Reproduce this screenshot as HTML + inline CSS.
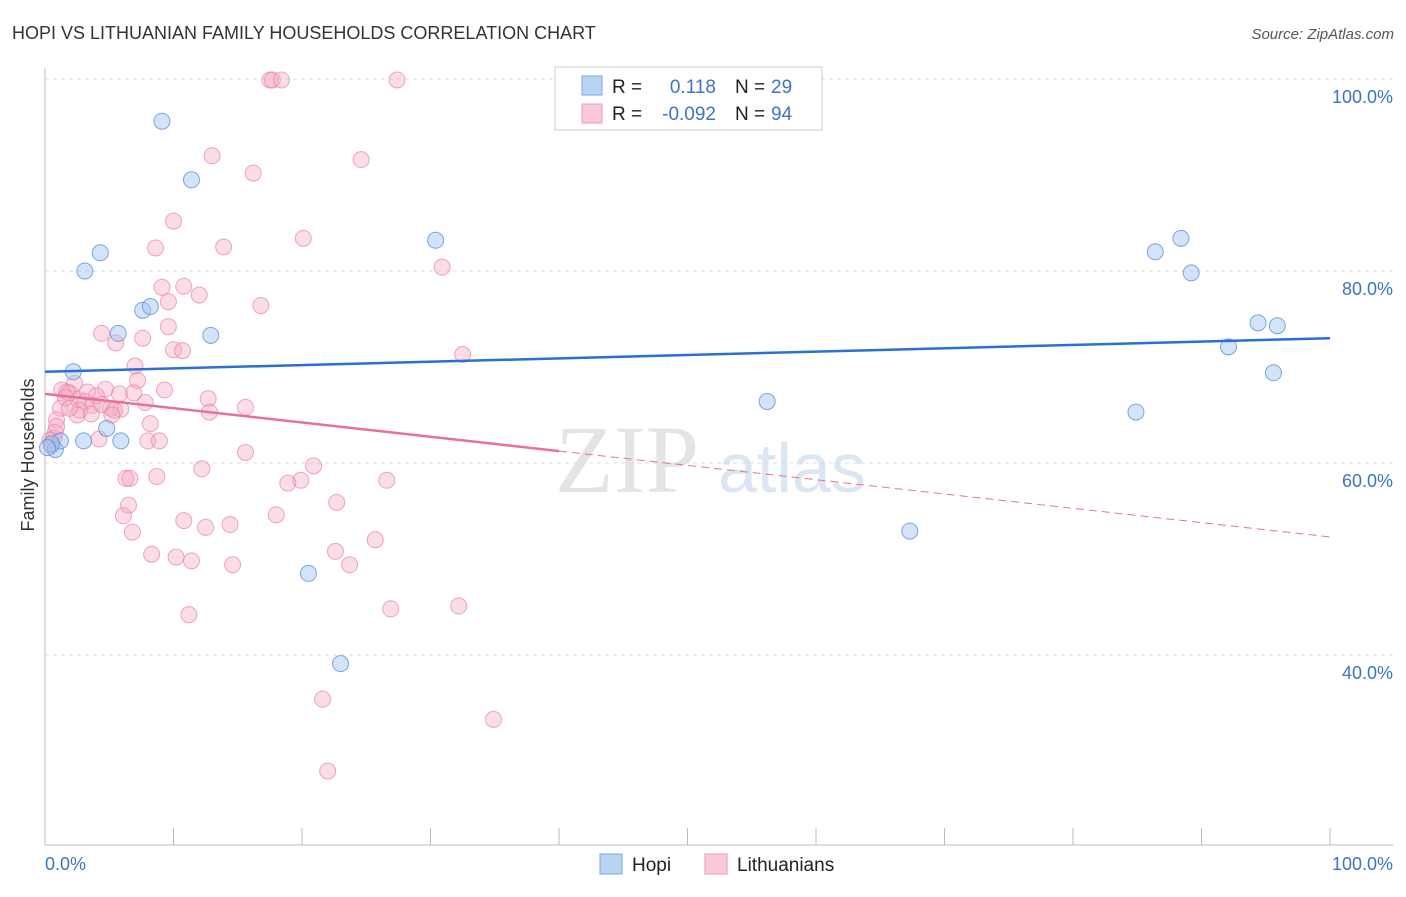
<!DOCTYPE html>
<html><head><meta charset="utf-8"><style>
body{margin:0;background:#fff;width:1406px;height:892px;overflow:hidden;font-family:"Liberation Sans",sans-serif}
</style></head><body>
<svg id="c" width="1406" height="892" xmlns="http://www.w3.org/2000/svg">
<text x="12" y="39" font-size="18" fill="#333">HOPI VS LITHUANIAN FAMILY HOUSEHOLDS CORRELATION CHART</text>
<text x="1394" y="39" font-size="15" fill="#555" text-anchor="end" font-style="italic">Source: ZipAtlas.com</text>
<text x="34" y="455" font-size="18" fill="#333" text-anchor="middle" transform="rotate(-90 34 455)">Family Households</text>
<text x="555" y="492" font-size="96" fill="#e4e4e4" font-family="Liberation Serif">ZIP</text>
<text x="718" y="492" font-size="70" fill="#dbe6f4">atlas</text>
<g id="grid"></g><g id="pts"></g><g id="lines"></g>
<g>
<rect x="555" y="67" width="267" height="63" fill="#fff" stroke="#ccc"/>
<rect x="582" y="76" width="20" height="19" fill="#b9d3f5" stroke="#7aa8e6"/>
<rect x="582" y="104" width="20" height="19" fill="#fbc8d7" stroke="#ec9ab3"/>
<text x="612" y="93" font-size="19" fill="#222">R =</text><text x="716" y="93" font-size="19" fill="#3b73c9" text-anchor="end">0.118</text>
<text x="735" y="93" font-size="19" fill="#222">N =</text><text x="771" y="93" font-size="19" fill="#3b73c9">29</text>
<text x="612" y="120" font-size="19" fill="#222">R =</text><text x="716" y="120" font-size="19" fill="#3b73c9" text-anchor="end">-0.092</text>
<text x="735" y="120" font-size="19" fill="#222">N =</text><text x="771" y="120" font-size="19" fill="#3b73c9">94</text>
</g>
<g>
<rect x="600" y="854" width="22" height="20" fill="#b9d3f5" stroke="#7aa8e6"/><text x="632" y="871" font-size="19" fill="#222">Hopi</text>
<rect x="705" y="854" width="22" height="20" fill="#fbc8d7" stroke="#ec9ab3"/><text x="737" y="871" font-size="19" fill="#222">Lithuanians</text>
</g>
<text x="45" y="870" font-size="18" fill="#3b73c9">0.0%</text>
<text x="1393" y="870" font-size="18" fill="#3b73c9" text-anchor="end">100.0%</text>
</svg>
<script>
const yTicks=[100,80,60,40];
const yTickLabels=["100.0%","80.0%","60.0%","40.0%"];
const hopiX=[9.1,11.4,4.3,3.1,30.4,7.6,8.2,5.7,12.9,2.2,0.8,1.2,3.0,5.9,4.8,56.2,86.4,88.4,89.2,94.4,95.9,92.1,95.6,84.9,67.3,20.5,23.0,0.5,0.2];
const hopiY=[95.6,89.5,81.9,80.0,83.2,75.9,76.3,73.5,73.3,69.5,61.4,62.3,62.3,62.3,63.6,66.4,82.0,83.4,79.8,74.6,74.3,72.1,69.4,65.3,52.9,48.5,39.1,62.0,61.6];
const lithPx=[[270,80],[273,80],[281,80],[397,80],[212,156],[361,160],[253,173],[173,221],[303,238],[155,248],[223,247],[442,267],[162,287],[184,286],[169,302],[199,295],[261,306],[168,327],[101,333],[116,343],[143,338],[173,350],[183,351],[463,355],[135,366],[138,380],[74,383],[62,390],[67,392],[70,393],[165,390],[106,389],[119,394],[97,396],[208,399],[78,400],[85,402],[92,405],[145,403],[245,407],[60,408],[80,410],[110,408],[121,409],[210,412],[77,415],[91,414],[57,420],[150,424],[55,432],[54,438],[99,439],[148,441],[160,441],[246,452],[202,469],[314,466],[301,480],[288,483],[387,480],[126,478],[130,478],[157,476],[128,505],[337,502],[123,516],[276,515],[184,521],[230,524],[206,527],[132,532],[375,540],[152,554],[336,551],[176,557],[191,561],[350,565],[232,565],[391,609],[459,606],[189,615],[322,699],[494,719],[328,771],[52,446],[50,440],[66,398],[88,392],[102,404],[115,410],[134,393],[70,408],[56,427],[112,415]];
const lithX=lithPx.map(p=>+((p[0]-45)/12.85).toFixed(1));
const lithY=lithPx.map(p=>+(100-(p[1]-79)/9.6).toFixed(1));
const hopiTrend=[69.5,73.0];
const lithTrend=[67.2,52.3];
const lithSolidEnd=40;
const NS="http://www.w3.org/2000/svg";
const X=v=>45+v*12.85, Y=v=>79+(100-v)*9.6;
function mk(t,a,p){const e=document.createElementNS(NS,t);for(const k in a)e.setAttribute(k,a[k]);p.appendChild(e);return e;}
const g=document.getElementById('grid');
yTicks.forEach((t,i)=>{const l=mk('line',{x1:45,x2:1393,y1:Y(t),y2:Y(t),stroke:'#ddd','stroke-dasharray':'4,4'},g);

const tx=mk('text',{x:1393,y:Y(t)+24,'font-size':18,fill:'#3b73c9','text-anchor':'end'},g);tx.textContent=yTickLabels[i];
});
const ax=mk('line',{x1:45,x2:1393,y1:845,y2:845,stroke:'#bbb'},g);
const ay=mk('line',{x1:45,x2:45,y1:68,y2:845,stroke:'#bbb'},g);
for(let i=0;i<=10;i++){const t=mk('line',{x1:X(i*10),x2:X(i*10),y1:828,y2:845,stroke:'#bbb'},g);}
const P=document.getElementById('pts');
lithX.forEach((x,i)=>{const c=mk('circle',{cx:X(x),cy:Y(lithY[i]),r:8,fill:'rgba(245,170,195,0.4)',stroke:'rgba(232,130,165,0.7)','stroke-width':1},P);
});
hopiX.forEach((x,i)=>{const c=mk('circle',{cx:X(x),cy:Y(hopiY[i]),r:8,fill:'rgba(160,195,240,0.45)',stroke:'rgba(90,145,220,0.8)','stroke-width':1},P);
});
const L=document.getElementById('lines');
const lt=v=>lithTrend[0]+(lithTrend[1]-lithTrend[0])*v/100;
let e=mk('line',{x1:X(0),y1:Y(hopiTrend[0]),x2:X(100),y2:Y(hopiTrend[1]),stroke:'#2a6fd6','stroke-width':2.5},L);

e=mk('line',{x1:X(0),y1:Y(lt(0)),x2:X(lithSolidEnd),y2:Y(lt(lithSolidEnd)),stroke:'#e8709a','stroke-width':2.5},L);

e=mk('line',{x1:X(lithSolidEnd),y1:Y(lt(lithSolidEnd)),x2:X(100),y2:Y(lt(100)),stroke:'#e8709a','stroke-width':1,'stroke-dasharray':'8,5'},L);

</script>
</body></html>
